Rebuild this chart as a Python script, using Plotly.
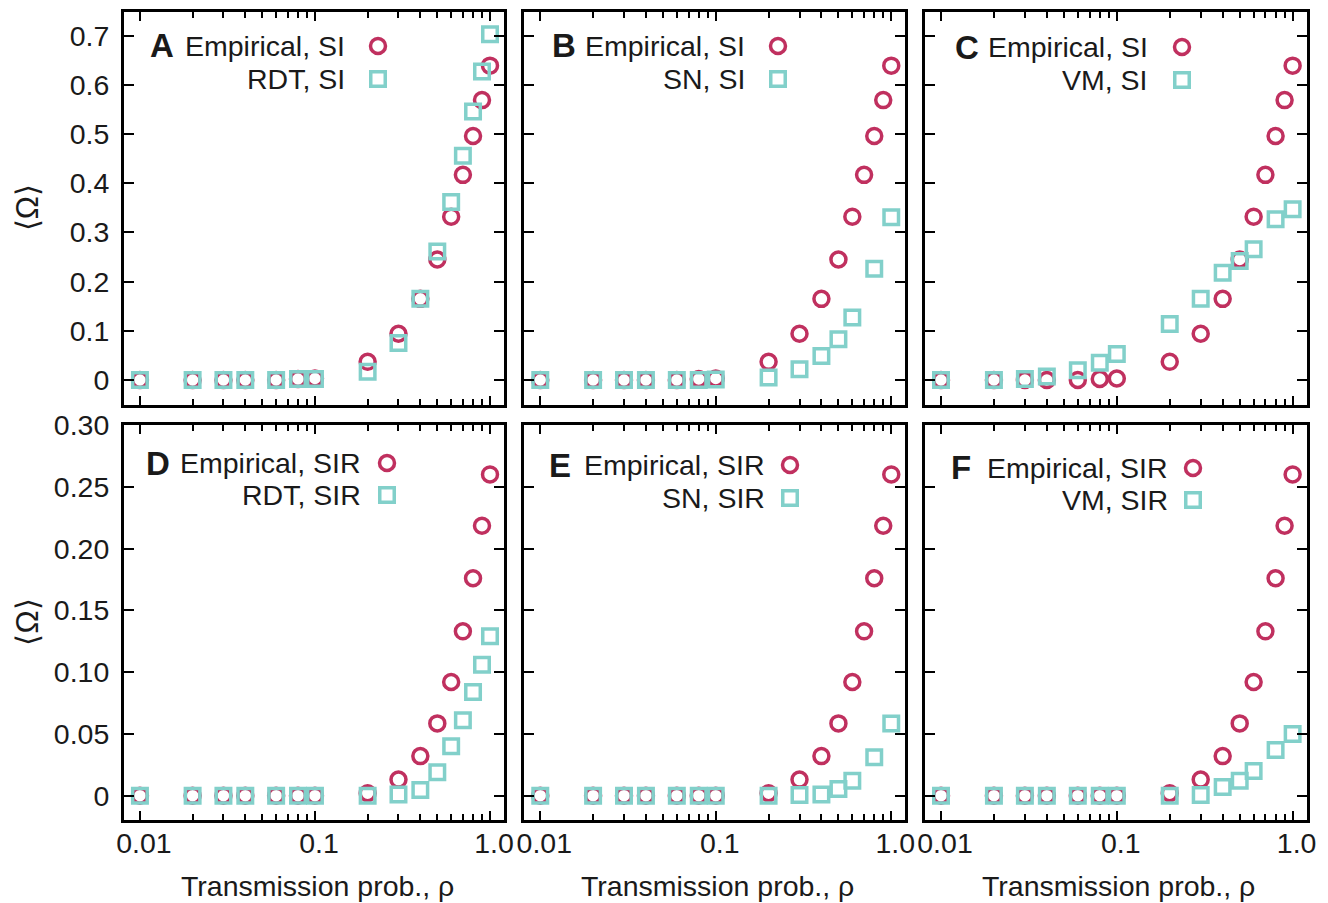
import plotly.graph_objects as go

# ---------------- data ----------------
rho_all = [0.01, 0.02, 0.03, 0.04, 0.06, 0.08, 0.1, 0.2, 0.3, 0.4, 0.5, 0.6, 0.7, 0.8, 0.9, 1.0]
rho_sub = [0.01, 0.02, 0.03, 0.04, 0.06, 0.08, 0.1, 0.2, 0.3, 0.4, 0.5, 0.6, 0.8, 1.0]

emp_si = [0, 0, 0, 0, 0, 0.002, 0.003, 0.037, 0.094, 0.165, 0.245, 0.332, 0.417, 0.496, 0.569, 0.639]
rdt_si = [0, 0, 0, 0, 0, 0.002, 0.002, 0.017, 0.075, 0.165, 0.261, 0.362, 0.456, 0.546, 0.627, 0.703]
sn_si = [0, 0, 0, 0, 0, 0, 0.001, 0.005, 0.022, 0.049, 0.083, 0.127, 0.226, 0.331]
vm_si = [0, 0, 0.002, 0.007, 0.020, 0.035, 0.053, 0.114, 0.165, 0.218, 0.242, 0.266, 0.327, 0.347]

emp_sir = [0, 0, 0, 0, 0, 0, 0, 0.002, 0.013, 0.032, 0.0585, 0.092, 0.133, 0.176, 0.2185, 0.260]
rdt_sir = [0, 0, 0, 0, 0, 0, 0, 0, 0.001, 0.0046, 0.019, 0.040, 0.061, 0.084, 0.106, 0.129]
sn_sir = [0, 0, 0, 0, 0, 0, 0, 0, 0.0005, 0.001, 0.0054, 0.012, 0.031, 0.0585]
vm_sir = [0, 0, 0, 0, 0, 0, 0, 0, 0.0005, 0.007, 0.012, 0.020, 0.037, 0.050]

panel_letters = ["A", "B", "C", "D", "E", "F"]
emp_labels = ["Empirical, SI", "Empirical, SI", "Empirical, SI",
              "Empirical, SIR", "Empirical, SIR", "Empirical, SIR"]
model_labels = ["RDT, SI", "SN, SI", "VM, SI", "RDT, SIR", "SN, SIR", "VM, SIR"]

x_tickvals = [0.01, 0.1, 1.0]
x_ticktext = ["0.01", "0.1", "1.0"]
x_minor = [0.02, 0.03, 0.04, 0.05, 0.06, 0.07, 0.08, 0.09,
           0.2, 0.3, 0.4, 0.5, 0.6, 0.7, 0.8, 0.9]
y_top_vals = [0, 0.1, 0.2, 0.3, 0.4, 0.5, 0.6, 0.7]
y_top_text = ["0", "0.1", "0.2", "0.3", "0.4", "0.5", "0.6", "0.7"]
y_bot_vals = [0, 0.05, 0.10, 0.15, 0.20, 0.25, 0.30]
y_bot_text = ["0", "0.05", "0.10", "0.15", "0.20", "0.25", "0.30"]

x_title = "Transmission prob., ρ"
y_title = "⟨Ω⟩"

# ---------------- style ----------------
W, H = 1328, 903
RED = "#c0305f"
TEAL = "#82d0ca"
FONT = "Liberation Sans, Arial, sans-serif"
TXT = "#1a1a1a"
FS = 28.5
MSIZE = 15
MLW = 3.5


def X(px):
    return px / W


def Y(py):
    return 1 - py / H


col_px = [(124, 504), (524.3, 905.3), (925, 1306.7)]
row_px = [(11.7, 405), (425, 820)]

series = [
    (rho_all, emp_si, rho_all, rdt_si),
    (rho_all, emp_si, rho_sub, sn_si),
    (rho_all, emp_si, rho_sub, vm_si),
    (rho_all, emp_sir, rho_all, rdt_sir),
    (rho_all, emp_sir, rho_sub, sn_sir),
    (rho_all, emp_sir, rho_sub, vm_sir),
]

fig = go.Figure()
annotations = []
shapes = []

for i in range(6):
    r, c = divmod(i, 3)
    ax = "" if i == 0 else str(i + 1)
    xe, ye, xm, ym = series[i]
    fig.add_trace(go.Scatter(
        x=xe, y=ye, mode="markers", xaxis="x" + ax, yaxis="y" + ax,
        marker=dict(symbol="circle-open", size=MSIZE, color=RED, line=dict(width=MLW, color=RED)),
        showlegend=False, cliponaxis=False))
    fig.add_trace(go.Scatter(
        x=xm, y=ym, mode="markers", xaxis="x" + ax, yaxis="y" + ax,
        marker=dict(symbol="square-open", size=MSIZE - 0.5, color=TEAL, line=dict(width=MLW, color=TEAL)),
        showlegend=False, cliponaxis=False))

    x0, x1 = col_px[c]
    y0, y1 = row_px[r]
    xaxis = dict(
        type="log", range=[-2.091, 0.08], domain=[X(x0), X(x1)],
        anchor="y" + ax, showgrid=False, zeroline=False, automargin=False,
        showline=True, linecolor="black", linewidth=3, mirror="allticks",
        ticks="inside", ticklen=9, tickwidth=2, tickcolor="black",
        tickmode="array", tickvals=x_tickvals, ticktext=x_ticktext,
        showticklabels=(r == 1), ticklabelstandoff=-4, ticklabelshift=4,
        tickfont=dict(family=FONT, size=FS, color=TXT),
        minor=dict(ticks="inside", ticklen=6, tickwidth=2, tickcolor="black",
                   tickmode="array", tickvals=x_minor, showgrid=False),
    )
    if r == 0:
        yv, yt, yr = y_top_vals, y_top_text, [-0.0508, 0.7487]
    else:
        yv, yt, yr = y_bot_vals, y_bot_text, [-0.0197, 0.30]
    yaxis = dict(
        range=yr, domain=[Y(y1), Y(y0)], anchor="x" + ax,
        showgrid=False, zeroline=False, automargin=False,
        showline=True, linecolor="black", linewidth=3, mirror="allticks",
        ticks="inside", ticklen=10, tickwidth=2, tickcolor="black",
        tickmode="array", tickvals=yv, ticktext=yt,
        showticklabels=(c == 0), ticklabelstandoff=6,
        tickfont=dict(family=FONT, size=FS, color=TXT),
    )
    fig.layout["xaxis" + ax] = xaxis
    fig.layout["yaxis" + ax] = yaxis

    # panel letter + legend
    letter_x = [[148, 550, 953], [144, 547, 949]][r][c]
    text_end = [[347, 747, 1150], [363, 767, 1170]][r][c]
    key_x = [[378, 778, 1182], [387, 790, 1193]][r][c]
    row1_y = [[46, 46, 47], [463, 465, 468]][r][c]
    row2_y = [[79, 79, 80], [495, 498, 500]][r][c]

    annotations.append(dict(text="<b>" + panel_letters[i] + "</b>", x=X(letter_x), y=Y(row1_y),
                            xref="paper", yref="paper", xanchor="left", yanchor="middle",
                            showarrow=False, font=dict(family=FONT, size=33, color=TXT)))
    annotations.append(dict(text=emp_labels[i], x=X(text_end), y=Y(row1_y),
                            xref="paper", yref="paper", xanchor="right", yanchor="middle",
                            showarrow=False, font=dict(family=FONT, size=FS, color=TXT)))
    annotations.append(dict(text=model_labels[i], x=X(text_end), y=Y(row2_y),
                            xref="paper", yref="paper", xanchor="right", yanchor="middle",
                            showarrow=False, font=dict(family=FONT, size=FS, color=TXT)))
    shapes.append(dict(type="circle", xref="paper", yref="paper",
                       xsizemode="pixel", ysizemode="pixel",
                       xanchor=X(key_x), yanchor=Y(row1_y),
                       x0=-MSIZE / 2, x1=MSIZE / 2, y0=-MSIZE / 2, y1=MSIZE / 2,
                       line=dict(color=RED, width=MLW)))
    s = (MSIZE - 0.5) / 2
    shapes.append(dict(type="rect", xref="paper", yref="paper",
                       xsizemode="pixel", ysizemode="pixel",
                       xanchor=X(key_x), yanchor=Y(row2_y),
                       x0=-s, x1=s, y0=-s, y1=s,
                       line=dict(color=TEAL, width=MLW)))

    if r == 1:
        annotations.append(dict(text=x_title, x=X((x0 + x1) / 2 + 3), y=Y(886),
                                xref="paper", yref="paper", xanchor="center", yanchor="middle",
                                showarrow=False, font=dict(family=FONT, size=FS, color=TXT)))
    if c == 0:
        annotations.append(dict(text=y_title, x=X(27), y=Y((y0 + y1) / 2),
                                xref="paper", yref="paper", xanchor="center", yanchor="middle",
                                textangle=-90, showarrow=False,
                                font=dict(family=FONT, size=31, color=TXT)))

fig.update_layout(
    template="none",
    width=W, height=H, margin=dict(l=0, r=0, t=0, b=0, autoexpand=False),
    paper_bgcolor="white", plot_bgcolor="white",
    annotations=annotations, shapes=shapes, showlegend=False,
)

fig.write_html("out.html")
